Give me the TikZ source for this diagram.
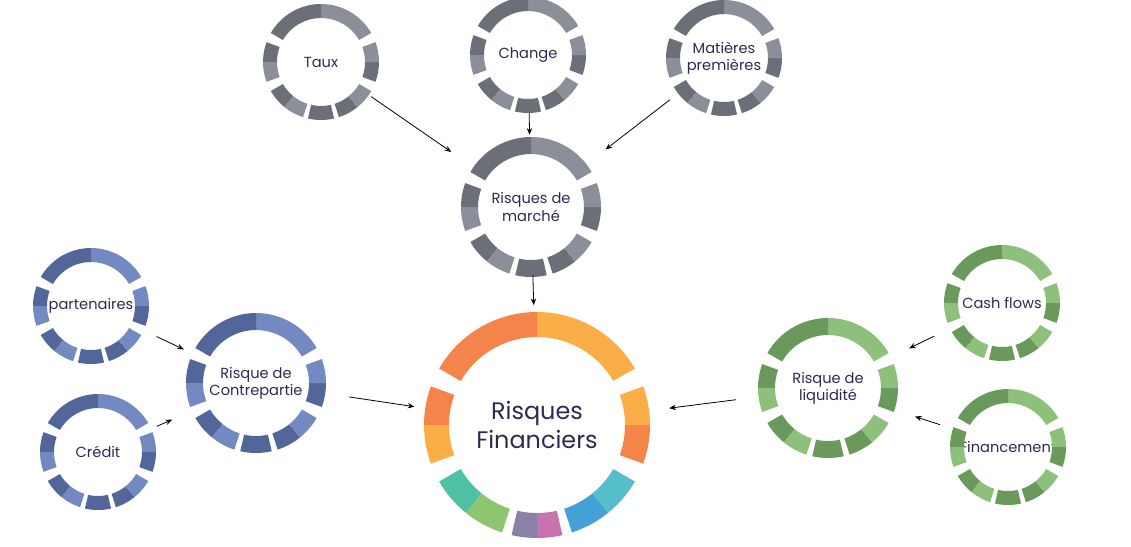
\documentclass[tikz,border=0pt]{standalone}
\usepackage{fontspec}
\setmainfont{Poppins}
\usetikzlibrary{calc,arrows.meta}
\definecolor{navy}{HTML}{2E2A4F}
\definecolor{gD}{HTML}{6B6F78}\definecolor{gL}{HTML}{8B8F99}
\definecolor{bD}{HTML}{53669A}\definecolor{bL}{HTML}{7389C1}
\definecolor{vD}{HTML}{6A9A5B}\definecolor{vL}{HTML}{8DC07B}
\definecolor{oD}{HTML}{F5844A}\definecolor{oL}{HTML}{FBAE48}
\definecolor{cTeal}{HTML}{4EC0A4}\definecolor{cGreen}{HTML}{8DC66F}
\definecolor{cPurp}{HTML}{8A80A8}\definecolor{cPink}{HTML}{C872B0}
\definecolor{cBlue}{HTML}{46A0D8}\definecolor{cCyan}{HTML}{56BEC8}
\newcommand\seg[6]{\fill[#6] ($(#1)+(#4:#2*0.752pt)$) arc[start angle=#4,end angle=#5,radius=#2*0.752pt] -- ($(#1)+(#5:#3*0.752pt)$) arc[start angle=#5,end angle=#4,radius=#3*0.752pt] -- cycle;}
\newcommand\ring[5]{%
 \seg{#1}{#2}{#3}{30}{90}{#5}\seg{#1}{#2}{#3}{90}{150}{#4}%
 \seg{#1}{#2}{#3}{160}{180}{#4}\seg{#1}{#2}{#3}{180}{200}{#5}%
 \seg{#1}{#2}{#3}{210}{231}{#4}\seg{#1}{#2}{#3}{231}{252}{#5}%
 \seg{#1}{#2}{#3}{257}{270}{#4}\seg{#1}{#2}{#3}{270}{283}{#4}%
 \seg{#1}{#2}{#3}{288}{309}{#4}\seg{#1}{#2}{#3}{309}{330}{#5}%
 \seg{#1}{#2}{#3}{340}{360}{#4}\seg{#1}{#2}{#3}{0}{20}{#5}}
\tikzset{
 lbl/.style={circle,inner sep=0pt,align=center,text=navy,font=\fontsize{11}{13}\selectfont},
 small/.style={lbl,minimum size=87.2pt},
 mid/.style={lbl,minimum size=105.3pt},
 arr/.style={-{Stealth[length=5pt,width=4pt]},line width=0.6pt,black}
}
\begin{document}
\begin{tikzpicture}[x=0.752pt,y=-0.752pt]
\useasboundingbox (0,0) rectangle (1131,546);
\node[small] (taux) at (321,62) {Taux};
\node[small] (change) at (528,55) {Change};
\node[small] (mat) at (724,58) {Matières\\premières};
\node[mid] (marche) at (531,207) {Risques de\\marché};
\node[lbl,minimum size=170pt,font=\fontsize{18}{22}\selectfont] (central) at (537,425) {Risques\\Financiers};
\node[small] (part) at (91,306) {partenaires};
\node[small] (credit) at (98,452) {Crédit};
\node[mid] (contre) at (256,383) {Risque de\\Contrepartie};
\node[mid] (liq) at (828,388) {Risque de\\liquidité};
\node[small] (cash) at (1002,303) {Cash flows};
\node[small] (fin) at (1008,447) {Financement};
\ring{taux}{58}{44}{gD}{gL}
\ring{change}{58}{44}{gD}{gL}
\ring{mat}{58}{44}{gD}{gL}
\ring{marche}{70}{53}{gD}{gL}
\ring{part}{58}{44}{bD}{bL}
\ring{credit}{58}{44}{bD}{bL}
\ring{contre}{70}{53}{bD}{bL}
\ring{liq}{70}{53}{vD}{vL}
\ring{cash}{58}{44}{vD}{vL}
\ring{fin}{58}{44}{vD}{vL}
% central ring
\seg{central}{113}{88}{30}{90}{oL}\seg{central}{113}{88}{90}{150}{oD}
\seg{central}{113}{88}{160}{180}{oD}\seg{central}{113}{88}{180}{200}{oL}
\seg{central}{113}{88}{210}{231}{cTeal}
\seg{central}{113}{88}{231}{252}{cGreen}
\seg{central}{113}{88}{257}{270}{cPurp}
\seg{central}{113}{88}{270}{283}{cPink}
\seg{central}{113}{88}{288}{309}{cBlue}
\seg{central}{113}{88}{309}{330}{cCyan}
\seg{central}{113}{88}{340}{360}{oD}\seg{central}{113}{88}{0}{20}{oL}
% arrows
\draw[arr,shorten <=2pt,shorten >=20pt] (taux) -- (marche);
\draw[arr,shorten >=1.5pt] (change) -- (marche);
\draw[arr,shorten <=7.5pt,shorten >=18pt] (mat) -- (marche);
\draw[arr,shorten <=-1.5pt,shorten >=5pt] (marche) -- (central);
\draw[arr,shorten <=18pt,shorten >=8pt] (contre) -- (central);
\draw[arr,shorten <=10.5pt,shorten >=7pt] (part) -- (contre);
\draw[arr,shorten <=4.5pt,shorten >=16pt] (credit) -- (contre);
\draw[arr,shorten <=17pt,shorten >=15pt] (liq) -- (central);
\draw[arr,shorten <=13pt,shorten >=15pt] (cash) -- (liq);
\draw[arr,shorten <=10pt,shorten >=16pt] (fin) -- (liq);
\end{tikzpicture}
\end{document}
